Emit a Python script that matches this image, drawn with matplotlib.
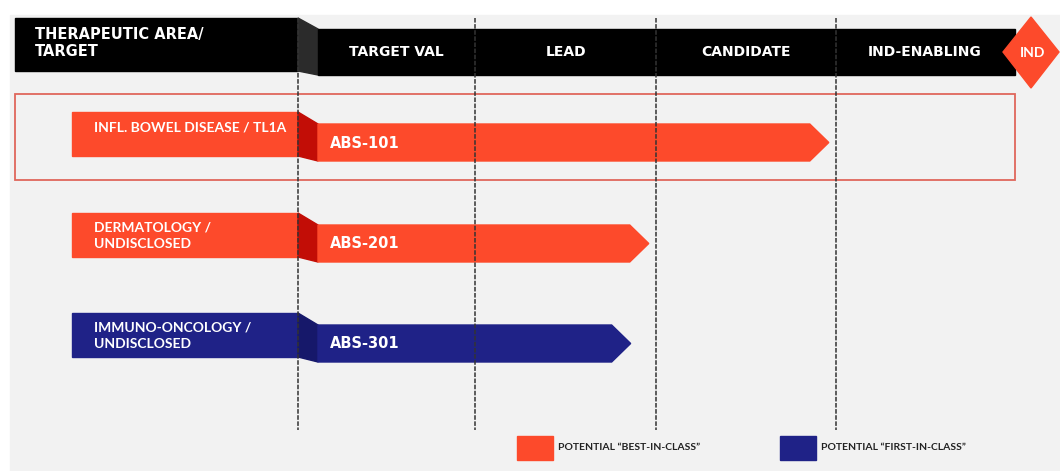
import numpy as np
import matplotlib
matplotlib.use("Agg")
import matplotlib.pyplot as plt
from matplotlib.patches import Polygon, Rectangle

# data
phases = ["TARGET VAL", "LEAD", "CANDIDATE", "IND-ENABLING"]
areas = ["INFL. BOWEL DISEASE / TL1A", "DERMATOLOGY /\nUNDISCLOSED", "IMMUNO-ONCOLOGY /\nUNDISCLOSED"]
programs = ["ABS-101", "ABS-201", "ABS-301"]
progress = [2.96, 1.96, 1.86]          # in phase units (0 = start of TARGET VAL)
kind = ["best", "best", "first"]
legend_labels = {"best": "POTENTIAL \u201cBEST-IN-CLASS\u201d",
                 "first": "POTENTIAL \u201cFIRST-IN-CLASS\u201d"}

# layout
phase_x = [298, 475, 656, 836, 1015]
row_top = [112, 213, 313]
colors = {"best": "#fd4a2b", "first": "#1f2287"}
dark = {"best": "#c20d06", "first": "#16186a"}
narrow = ["Lato", "DejaVu Sans"]

fig = plt.figure(figsize=(10.6, 4.71), dpi=100, facecolor="white")
ax = fig.add_axes([0, 0, 1, 1])
ax.set_xlim(0, 1060)
ax.set_ylim(471, 0)
ax.axis("off")

ax.add_patch(Rectangle((10, 15), 1050, 456, color="#f2f2f2", zorder=0))

# header
ax.add_patch(Rectangle((15, 18), phase_x[0] - 15, 53, color="black", zorder=2))
ax.add_patch(Polygon([(298, 18), (318, 29), (318, 75), (298, 71)], color="#2b2b2b", zorder=2))
ax.add_patch(Rectangle((318, 29), 1015 - 318, 46, color="black", zorder=2))
ax.text(35, 43, "THERAPEUTIC AREA/\nTARGET", color="white", fontsize=10.5, fontweight="bold",
        family="DejaVu Sans", va="center", ha="left", linespacing=1.1, zorder=3)
centers = [396, 566, 746, 925]
for name, cx in zip(phases, centers):
    ax.text(cx, 52, name, color="white", fontsize=10, fontweight="bold",
            family="DejaVu Sans", ha="center", va="center", zorder=3)
ax.add_patch(Polygon([(1031, 17), (1059, 52), (1031, 88), (1003, 52)], color="#fd4a2b", zorder=4))
ax.text(1033, 53, "IND", color="white", fontsize=10, fontweight="bold",
        family=narrow, ha="center", va="center", zorder=5)

# highlight box
ax.add_patch(Rectangle((15, 94), 1000, 86, fill=False, edgecolor="#e0675c", lw=1.3, zorder=1))

# rows
end_x = np.interp(progress, range(len(phase_x)), phase_x)
for top, area, prog, k, ex in zip(row_top, areas, programs, kind, end_x):
    c, d = colors[k], dark[k]
    ax.add_patch(Rectangle((72, top), phase_x[0] - 72, 44, color=c, zorder=2))
    ax.add_patch(Polygon([(298, top), (318, top + 12), (318, top + 49), (298, top + 44)],
                         color=d, zorder=2))
    ax.add_patch(Polygon([(318, top + 12), (ex - 19, top + 12), (ex, top + 30.5),
                          (ex - 19, top + 49), (318, top + 49)], color=c, zorder=2))
    ty = top + 15 if "\n" not in area else top + 23
    ax.text(94, ty, area, color="white", fontsize=10, fontweight="bold",
            family=narrow, ha="left", va="center", linespacing=1.45, zorder=3)
    ax.text(330, top + 31, prog, color="white", fontsize=10.5, fontweight="bold",
            family="DejaVu Sans", ha="left", va="center", zorder=3)

# phase dividers
for x in phase_x[:-1]:
    ax.plot([x, x], [18, 430], color="#333333", lw=1.1, ls=(0, (3, 1)), zorder=6)

# legend
for (k, lab), lx in zip(legend_labels.items(), [517, 780]):
    ax.add_patch(Rectangle((lx, 436), 36, 24, color=colors[k], zorder=2))
    ax.text(lx + 41, 448, lab, color="#222222", fontsize=7.5, fontweight="bold",
            family=narrow, ha="left", va="center", zorder=3)

fig.savefig("out.png", dpi=100, facecolor=fig.get_facecolor())
